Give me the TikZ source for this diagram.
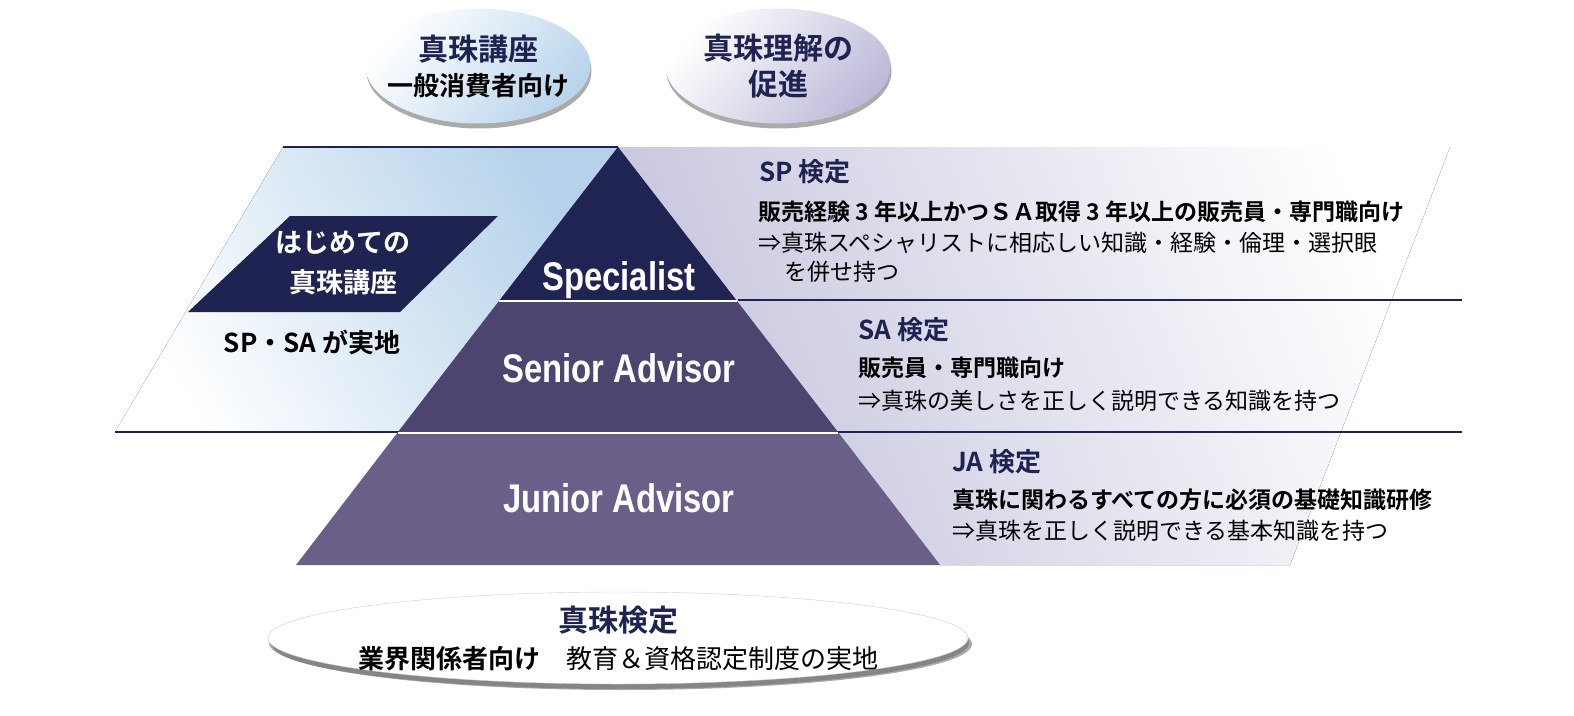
\documentclass[tikz,border=0pt]{standalone}
\usepackage{fontspec}
\setmainfont{Noto Sans CJK JP}[BoldFont={Noto Sans CJK JP Bold}]
\newfontfamily\levelfont[FakeStretch=0.82]{Liberation Sans}
\usetikzlibrary{shapes.geometric,shadows}
\usepackage{xcolor}
\definecolor{navy}{HTML}{1E2352}
\definecolor{spfill}{HTML}{1F2453}
\definecolor{safill}{HTML}{4D446F}
\definecolor{jafill}{HTML}{6A5F88}
\definecolor{skyband}{HTML}{B5D2EA}
\definecolor{lilacband}{HTML}{C6C5DE}
\definecolor{skyball}{HTML}{B9D4EC}
\definecolor{lilacball}{HTML}{BDBBD9}
\tikzset{
  every node/.style={inner sep=0pt},
  rule/.style={draw=navy,line width=2.2pt},
  gap/.style={draw=white,line width=2.5pt},
  level/.style={anchor=base,text=white,font=\levelfont\bfseries\fontsize{40}{40}\selectfont},
  head/.style={anchor=west,text=navy,font=\bfseries\fontsize{26}{28}\selectfont},
  cond/.style={anchor=west,text=black,font=\bfseries\fontsize{23}{26}\selectfont},
  gain/.style={anchor=west,text=black,font=\fontsize{23}{26}\selectfont},
  bubble/.style={ellipse,minimum width=225pt,minimum height=115pt,
    drop shadow={shadow xshift=1pt,shadow yshift=-5pt,fill=black!60,opacity=.55}},
  bubbletext/.style={align=center,font=\fontsize{26}{35}\selectfont},
  introtext/.style={align=center,text=white,font=\bfseries\fontsize{27}{40}\selectfont},
}

\begin{document}
\begin{tikzpicture}[x=1pt,y=-1pt]
\useasboundingbox (0,0) rectangle (1574,715);

% background bands
\fill[left color=white,right color=skyband,shading angle=120] (115,432) -- (283,147) -- (618,147) -- (398,432) -- cycle;
\fill[left color=lilacband,right color=white,shading angle=111] (618,147) -- (1450,147) -- (1290,565) -- (940,565) -- cycle;

% rules
\draw[rule] (283,147) -- (618,147);
\draw[rule] (738,300) -- (1462,300);
\draw[rule] (115,432) -- (1462,432);

% pyramid
\fill[spfill] (618,147) -- (737,301) -- (499,301) -- cycle;
\fill[safill] (499,301) -- (737,301) -- (838,432) -- (398,432) -- cycle;
\fill[jafill] (398,432) -- (838,432) -- (940,565) -- (296,565) -- cycle;
\draw[gap] (499,301) -- (737,301);
\draw[gap] (398,433) -- (838,433);

\node[level] (sp) at (619,290) {Specialist};
\node[level] (sa) at (619,382) {Senior Advisor};
\node[level] (ja) at (619,512) {Junior Advisor};

% first course
\fill[navy] (290,216) -- (498,216) -- (400,312) -- (188,312) -- cycle;
\node[introtext] (intro) at (343,263) {はじめての\\真珠講座};
\node[font=\bfseries\fontsize{26}{28}\selectfont] (held) at (312,342) {SP・SA が実地};

% grades
\node[head] (sphead) at (759,172) {SP 検定};
\node[cond] (spcond) at (758,212) {販売経験 3 年以上かつＳＡ取得 3 年以上の販売員・専門職向け};
\node[gain] (spgain) at (758,243) {⇒真珠スペシャリストに相応しい知識・経験・倫理・選択眼};
\node[gain] (spgain2) at (784,272) {を併せ持つ};

\node[head] (sahead) at (858,330) {SA 検定};
\node[cond] (sacond) at (858,368) {販売員・専門職向け};
\node[gain] (sagain) at (858,401) {⇒真珠の美しさを正しく説明できる知識を持つ};

\node[head] (jahead) at (952,462) {JA 検定};
\node[cond] (jacond) at (952,500) {真珠に関わるすべての方に必須の基礎知識研修};
\node[gain] (jagain) at (952,531) {⇒真珠を正しく説明できる基本知識を持つ};

% bubbles
\node[bubble,top color=white,bottom color=skyball,shading angle=50] (course) at (478,66) {};
\node[bubbletext] (coursetext) at (course) {{\bfseries\fontsize{30}{30}\selectfont\color{navy}真珠講座}\\{\bfseries 一般消費者向け}};
\node[bubble,top color=white,bottom color=lilacball,shading angle=50] (aim) at (778,66) {};
\node[bubbletext,text=navy,font=\bfseries\fontsize{30}{36}\selectfont] (aimtext) at (aim) {真珠理解の\\促進};

\node[bubble,minimum width=700pt,minimum height=92pt,fill=white,draw=black!20,
  drop shadow={shadow xshift=4pt,shadow yshift=-6pt,fill=black!60,opacity=.55}] (exam) at (618,638) {};
\node[bubbletext,font=\fontsize{26}{37}\selectfont] (examtext) at (exam) {{\bfseries\fontsize{30}{30}\selectfont\color{navy}真珠検定}\\{\bfseries 業界関係者向け}　教育＆資格認定制度の実地};

\end{tikzpicture}
\end{document}
